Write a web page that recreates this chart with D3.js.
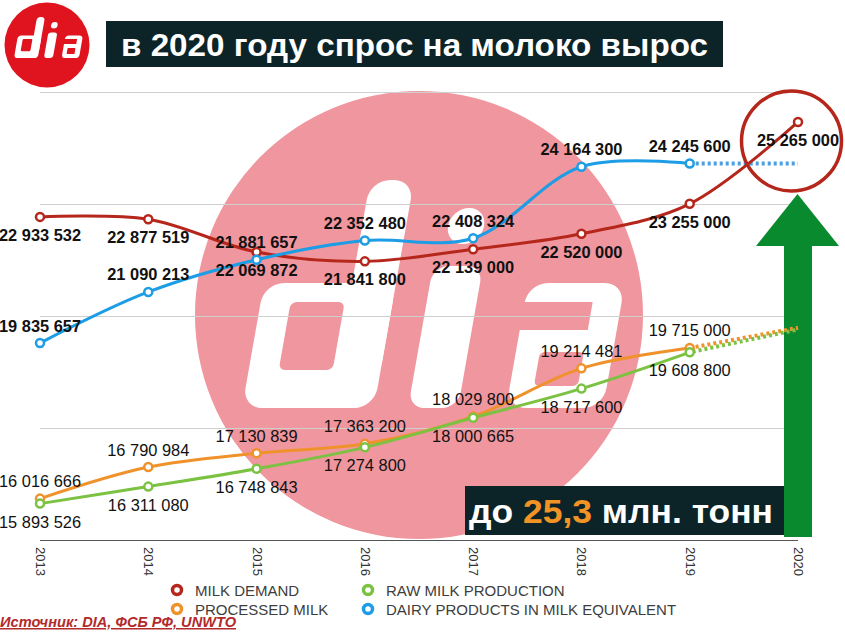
<!DOCTYPE html>
<html>
<head>
<meta charset="utf-8">
<script src="https://cdn.jsdelivr.net/npm/d3@7"></script>
<style>
  body { margin: 0; background: #fff; }
  svg { display: block; font-family: "Liberation Sans", Arial, sans-serif; }
</style>
</head>
<body>
<div id="chart-area"></div>
<script>
// data
var years = ["2013", "2014", "2015", "2016", "2017", "2018", "2019", "2020"];
var milkDemand = [22933532, 22877519, 22069872, 21841800, 22139000, 22520000, 23255000, 25265000];
var processedMilk = [16016666, 16790984, 17130839, 17363200, 18029800, 19214481, 19715000];
var rawMilk = [15893526, 16311080, 16748843, 17274800, 18000665, 18717600, 19608800];
var dairyProducts = [19835657, 21090213, 21881657, 22352480, 22408324, 24164300, 24245600];
// dotted 2020 projections
var processedMilk2020 = 20210000;
var rawMilk2020 = 20170000;
var dairyProducts2020 = 24245600;
var gridValues = [15000000, 17750000, 20500000, 23250000, 26000000];

var width = 845, height = 635;

var svg = d3.select("#chart-area")
    .append("svg")
    .attr("width", width)
    .attr("height", height);

var x = d3.scalePoint().domain(years).range([40, 798]);
var y = d3.scaleLinear().domain([15000000, 26000000]).range([540, 92]);

var fmt = d3.formatLocale({ decimal: ",", thousands: " ", grouping: [3], currency: ["", ""] }).format(",");

var red = "#b5261b", orange = "#f0922b", green = "#7cc242", blue = "#1c9de6";

// dia logo shapes, baseline-left origin
function drawLogo(g, bg) {
    g.append("rect").attr("x", 0).attr("y", -125).attr("width", 132).attr("height", 125).attr("rx", 20).attr("fill", "#fff");
    g.append("rect").attr("x", 88).attr("y", -228).attr("width", 44).attr("height", 200).attr("rx", 20).attr("fill", "#fff");
    g.append("rect").attr("x", 30).attr("y", -106).attr("width", 54).attr("height", 68).attr("rx", 6).attr("fill", bg);
    g.append("circle").attr("cx", 192).attr("cy", -182).attr("r", 18).attr("fill", "#fff");
    g.append("rect").attr("x", 166).attr("y", -142).attr("width", 50).attr("height", 142).attr("rx", 16).attr("fill", "#fff");
    g.append("rect").attr("x", 264).attr("y", -125).attr("width", 97).attr("height", 125).attr("rx", 20).attr("fill", "#fff");
    g.append("rect").attr("x", 252).attr("y", -106).attr("width", 80).attr("height", 28).attr("fill", bg);
    g.append("rect").attr("x", 288).attr("y", -56).attr("width", 44).attr("height", 34).attr("rx", 5).attr("fill", bg);
}

// watermark
svg.append("circle").attr("cx", 419).attr("cy", 315).attr("r", 224).attr("fill", "#f0969e");
drawLogo(svg.append("g").attr("transform", "translate(242,408) skewX(-10)"), "#f0969e");

// small logo
svg.append("circle").attr("cx", 47).attr("cy", 45).attr("r", 42.5).attr("fill", "#e0141e");
drawLogo(svg.append("g").attr("transform", "translate(14,58) scale(0.18) skewX(-10)"), "#e0141e");

// title
svg.append("rect").attr("x", 106).attr("y", 21).attr("width", 617).attr("height", 46).attr("fill", "#0c2428");
svg.append("text")
    .attr("x", 121)
    .attr("y", 56)
    .attr("font-size", "31px")
    .attr("font-weight", "bold")
    .attr("fill", "#fff")
    .attr("textLength", 587)
    .attr("lengthAdjust", "spacingAndGlyphs")
    .text("в 2020 году спрос на молоко вырос");

// grid
svg.append("g")
    .attr("class", "grid")
    .attr("transform", "translate(40,0)")
    .call(d3.axisLeft(y).tickValues(gridValues).tickSize(-758).tickFormat(""))
    .call(g => g.select(".domain").remove())
    .call(g => g.selectAll("line").attr("stroke", d => d === 15000000 ? "#555" : "#cfcfcf").attr("stroke-width", 1));

// x axis labels
svg.append("g")
    .attr("transform", "translate(0,540)")
    .call(d3.axisBottom(x).tickSize(0))
    .call(g => g.select(".domain").remove())
    .selectAll("text")
    .attr("transform", "rotate(90)")
    .attr("x", 7)
    .attr("y", 0)
    .attr("dy", "0.35em")
    .attr("text-anchor", "start")
    .attr("font-family", "Liberation Sans, Arial, sans-serif")
    .attr("font-size", "13px")
    .attr("fill", "#333");

// green arrow
var arrowX = x("2020");
svg.append("rect").attr("x", arrowX - 14).attr("y", 245).attr("width", 28).attr("height", 292).attr("fill", "#0a8a2f");
svg.append("path")
    .attr("d", "M" + (arrowX - 42) + ",246 L" + (arrowX - 0.5) + ",194 L" + (arrowX + 41) + ",246 Z")
    .attr("fill", "#0a8a2f");

// bottom box
svg.append("rect").attr("x", 465).attr("y", 486).attr("width", arrowX - 14 - 465).attr("height", 49).attr("fill", "#0c2428");
var boxText = svg.append("text")
    .attr("x", 469)
    .attr("y", 523)
    .attr("font-size", "34px")
    .attr("font-weight", "bold")
    .attr("fill", "#fff")
    .attr("textLength", 304)
    .attr("lengthAdjust", "spacingAndGlyphs");
boxText.append("tspan").text("до ");
boxText.append("tspan").attr("fill", "#f29325").text("25,3");
boxText.append("tspan").text(" млн. тонн");

var line = d3.line()
    .x((d, i) => x(years[i]))
    .y(d => y(d))
    .curve(d3.curveCatmullRom.alpha(0.5));

function dotted(from, to, color, offset) {
    svg.append("line")
        .attr("x1", x("2019")).attr("y1", y(from))
        .attr("x2", x("2020")).attr("y2", y(to))
        .attr("stroke", color)
        .attr("stroke-width", 4)
        .attr("stroke-dasharray", "3,3")
        .attr("stroke-dashoffset", offset);
}

dotted(dairyProducts[6], dairyProducts2020, "#4a9fe3", 0);
dotted(processedMilk[6], processedMilk2020, orange, 0);
dotted(rawMilk[6], rawMilk2020, green, 3);

var series = [
    { values: processedMilk, color: orange, above: true, bold: false },
    { values: rawMilk, color: green, above: false, bold: false },
    { values: milkDemand, color: red, above: false, bold: true },
    { values: dairyProducts, color: blue, above: true, bold: true }
];

series.forEach(s => {
    svg.append("path")
        .attr("d", line(s.values))
        .attr("fill", "none")
        .attr("stroke", s.color)
        .attr("stroke-width", 3);
});

series.forEach(s => {
    svg.selectAll(null)
        .data(s.values)
        .enter()
        .append("circle")
        .attr("cx", (d, i) => x(years[i]))
        .attr("cy", d => y(d))
        .attr("r", 4)
        .attr("fill", "#fff")
        .attr("stroke", s.color)
        .attr("stroke-width", 2.5);

    svg.selectAll(null)
        .data(s.values)
        .enter()
        .append("text")
        .attr("x", (d, i) => x(years[i]))
        .attr("y", d => y(d) + (s.above ? -11.5 : 24))
        .attr("text-anchor", "middle")
        .attr("font-size", "16.4px")
        .attr("font-weight", s.bold ? "bold" : "normal")
        .attr("fill", "#111")
        .text(d => fmt(d));
});

// highlight circle around 2020
svg.append("circle")
    .attr("cx", 791.5)
    .attr("cy", 141)
    .attr("r", 50)
    .attr("fill", "none")
    .attr("stroke", red)
    .attr("stroke-width", 3.5);

// legend
var legendItems = [
    { name: "MILK DEMAND", color: red, lx: 177, ly: 590 },
    { name: "PROCESSED MILK", color: orange, lx: 177, ly: 609 },
    { name: "RAW MILK PRODUCTION", color: green, lx: 368, ly: 590 },
    { name: "DAIRY PRODUCTS IN MILK EQUIVALENT", color: blue, lx: 368, ly: 609 }
];

var legend = svg.selectAll(".legend")
    .data(legendItems)
    .enter()
    .append("g")
    .attr("class", "legend")
    .attr("transform", d => "translate(" + d.lx + "," + d.ly + ")");

legend.append("circle")
    .attr("r", 4.5)
    .attr("fill", "#fff")
    .attr("stroke", d => d.color)
    .attr("stroke-width", 3.5);

legend.append("text")
    .attr("x", 18)
    .attr("y", 6)
    .attr("font-size", "15px")
    .attr("fill", "#3d3d3d")
    .text(d => d.name);

// source
svg.append("text")
    .attr("x", 0)
    .attr("y", 627)
    .attr("font-size", "15px")
    .attr("font-style", "italic")
    .attr("font-weight", "bold")
    .attr("fill", "#b22a2a")
    .attr("text-decoration", "underline")
    .attr("textLength", 236)
    .attr("lengthAdjust", "spacingAndGlyphs")
    .text("Источник: DIA, ФСБ РФ, UNWTO");
</script>
</body>
</html>
